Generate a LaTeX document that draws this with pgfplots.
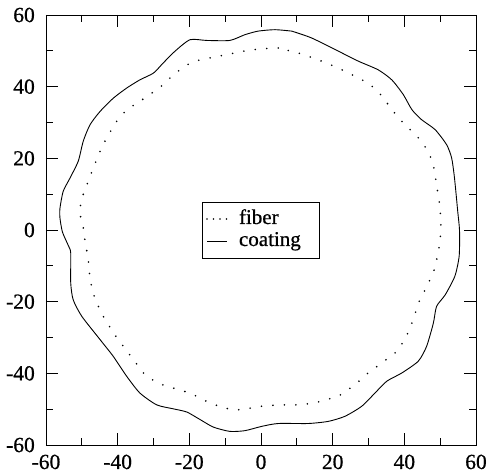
\documentclass[border=0pt]{standalone}
\usepackage{pgfplots}
\pgfplotsset{compat=1.18}
\usepackage{fontspec}
\setmainfont{Liberation Serif}
\newfontface\thk{Liberation Serif}[FakeBold=0.7]
\begin{document}
\begin{tikzpicture}
\begin{axis}[
  name=ax,
  scale only axis,
  width=430pt, height=430pt,
  xmin=-60, xmax=60, ymin=-60, ymax=60,
  xtick={-60,-40,...,60}, ytick={-60,-40,...,60},
  minor tick num=1,
  tick align=inside,
  major tick length=12pt, minor tick length=7pt,
  tick style={black, line width=0.9pt},
  axis line style={line width=0.9pt},
  /pgf/number format/assume math mode=true,
  tick label style={font=\thk\fontsize{21.5}{23}\selectfont},
  xticklabel style={inner sep=0pt, yshift=-9.5pt},
  yticklabel style={inner sep=0pt, xshift=-11pt},
  legend style={at={(0.5,0.5)}, anchor=center, draw=black, line width=0.9pt,
    font=\thk\fontsize{21}{22}\selectfont, inner xsep=4pt, inner ysep=6pt,
    nodes={inner sep=3pt, text height=13pt, text depth=3pt},
    column sep=8pt, row sep=0pt},
  legend cell align=left,
]
\addplot[black, line width=1.8pt, line cap=round, dash pattern=on 0pt off 11.5pt,
  legend image code/.code={\draw[black, line width=1.8pt, line cap=round, dash pattern=on 0pt off 6.5pt] (2pt,0pt) -- (22pt,0pt);}]
  coordinates {
(4.8,50.8) (0.2,50.6) (-4.5,50) (-7.3,49.4) (-13.3,48.2) (-17,47.5) (-20.7,46.1) (-24.5,43.3) (-27.3,40.5) (-30.5,38.2) (-33.8,35.9) (-37.5,33.6) (-40.3,30.3) (-43.1,25.7) (-44.9,22) (-46.8,17.3) (-48.6,12.6) (-50,8.9) (-50.7,5.2) (-49.6,0.6) (-49.3,-1.8) (-48.2,-8.3) (-47.7,-13.9) (-46.3,-19.5) (-44,-24.1) (-41.2,-28.7) (-38.4,-32.5) (-35.6,-36.2) (-32.8,-39.9) (-29.1,-42.7) (-24.5,-44.1) (-19.8,-45.5) (-15.2,-47.8) (-10.5,-49.7) (-5.9,-50.2) (0.2,-49.2) (4.8,-48.8) (11.4,-48.8) (16.9,-47.8) (21.6,-46.4) (26.2,-43.2) (29.9,-39.9) (33.7,-37.1) (37.4,-34.3) (40.2,-30.6) (42.5,-25) (43.9,-20.4) (45.8,-16.7) (48.1,-12) (49.5,-6.4) (50.2,-0.8) (50.2,1.5) (50,6.1) (49,12.6) (48.1,18.2) (46.7,22) (43.9,25.7) (41.1,28.5) (38.3,31.3) (35.5,35) (32.7,38.7) (29.9,41) (26.2,42.9) (21.6,45.2) (16,47.5) (10.4,49.4) (4.8,50.8)
  };
\addlegendentry{fiber}
\addplot[black, line width=0.9pt, smooth, tension=0.4,
  legend image code/.code={\draw[black, line width=0.9pt] (2pt,0pt) -- (22pt,0pt);}]
  coordinates {
(8.6,55.5) (3.9,55.9) (-0.8,55.5) (-4.5,54.5) (-8.7,52.9) (-15.2,52.9) (-19.8,53.1) (-24,49.9) (-27.3,46.6) (-30,43.8) (-33.8,41.9) (-37.5,39.6) (-41.2,36.8) (-44.9,33.1) (-47.7,29.4) (-49.6,24.8) (-51,19.2) (-53.3,14.5) (-55.2,10.8) (-56.1,6.1) (-56.1,3.3) (-55.4,-0.6) (-53.7,-4.5) (-53.1,-6.4) (-53.1,-14.8) (-52.4,-19.5) (-50,-24.1) (-44.9,-30.6) (-41.2,-35.3) (-37.5,-40.8) (-33.8,-45.5) (-29.1,-48.8) (-24.5,-49.9) (-20.7,-50.8) (-17,-52.9) (-13.3,-55) (-8.7,-56.2) (-4.5,-56) (0.2,-54.8) (4.8,-54) (13.2,-54) (18.8,-53.4) (23.4,-52) (28.1,-49.2) (31.8,-45.5) (35.1,-42.2) (39.3,-39.9) (43.9,-36.6) (46.2,-32.5) (48.1,-26) (49,-21.3) (51.4,-18.1) (54.1,-12.9) (55.3,-7.3) (55.4,-0.1) (54.9,5.2) (54,14.5) (53.2,20.1) (51.8,23.8) (48.6,28) (44.8,30.8) (42.1,33.6) (39.7,37.8) (36.5,41.9) (32.7,44.7) (27.2,47.1) (21.6,49.9) (14.1,53.6) (8.6,55.5)
  };
\addlegendentry{coating\hspace*{12pt}}
\end{axis}
\pgfresetboundingbox
\path ([shift={(-46pt,-28pt)}]ax.south west) rectangle ([shift={(13pt,15pt)}]ax.north east);
\end{tikzpicture}
\end{document}
